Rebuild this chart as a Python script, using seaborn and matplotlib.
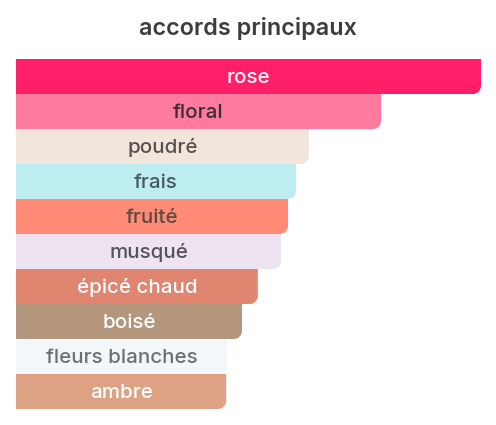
import matplotlib
matplotlib.use("Agg")
import matplotlib.pyplot as plt
import seaborn as sns
import pandas as pd
from matplotlib.path import Path
from matplotlib.patches import PathPatch

accords = ["rose", "floral", "poudré", "frais", "fruité", "musqué",
           "épicé chaud", "boisé", "fleurs blanches", "ambre"]
values = [100, 78.5, 63, 60.2, 58.5, 57, 52, 48.6, 45.4, 45.2]
bar_colors = ["#FF1F69", "#FE7A9E", "#F2E6DC", "#BDEDF0", "#FF8A75",
              "#EEE4F1", "#E08570", "#B3967C", "#F2F7FA", "#DDA184"]
text_colors = ["#FFFFFF", "#3A2C32", "#58504A", "#4A5862", "#5E4A42",
               "#55525A", "#FFFFFF", "#FFFFFF", "#6B7076", "#FFFFFF"]
title = "accords principaux"

df = pd.DataFrame({"accord": accords, "value": values})

W, H = 496, 425
fig = plt.figure(figsize=(W / 100, H / 100), dpi=100)
ax_left, ax_right = 16, 481
ax_top, ax_bottom = 59, 409
ax = fig.add_axes([ax_left / W, 1 - ax_bottom / H,
                   (ax_right - ax_left) / W, (ax_bottom - ax_top) / H])

sns.barplot(data=df, y="accord", x="value", hue="accord", palette=bar_colors,
            width=1.0, legend=False, ax=ax, orient="h", saturation=1)

ax.set_xlim(0, 100)
ax.set_ylim(len(accords) - 0.5, -0.5)
ax.axis("off")

# radius in pixels -> data units
r_px = 8
rx = r_px / (ax_right - ax_left) * 100
ry = r_px / ((ax_bottom - ax_top) / len(accords))
k = 0.5523

patches = list(ax.patches)
for i, p in enumerate(patches):
    x0 = p.get_x()
    x1 = x0 + p.get_width()
    ya = p.get_y()
    yb_ = ya + p.get_height()
    yt, yb = min(ya, yb_), max(ya, yb_)  # yb is display-bottom (inverted axis)
    verts = [(x0, yt), (x1, yt), (x1, yb - ry),
             (x1, yb - ry + k * ry), (x1 - (1 - k) * rx, yb), (x1 - rx, yb),
             (x0, yb), (x0, yt)]
    codes = [Path.MOVETO, Path.LINETO, Path.LINETO,
             Path.CURVE4, Path.CURVE4, Path.CURVE4,
             Path.LINETO, Path.CLOSEPOLY]
    fc = p.get_facecolor()
    p.remove()
    ax.add_patch(PathPatch(Path(verts, codes), facecolor=fc, edgecolor="none",
                           linewidth=0))
    ax.text((x0 + x1) / 2, (yt + yb) / 2 + 0.03, accords[i],
            ha="center", va="center", fontsize=14.8, family="Inter",
            fontweight="medium", color=text_colors[i])

fig.text(0.5, 1 - 28 / H, title, ha="center", va="center", fontsize=16.8,
         family="Inter", fontweight="semibold", color="#3C3C40")

fig.savefig("out.png", dpi=100, facecolor="white")
